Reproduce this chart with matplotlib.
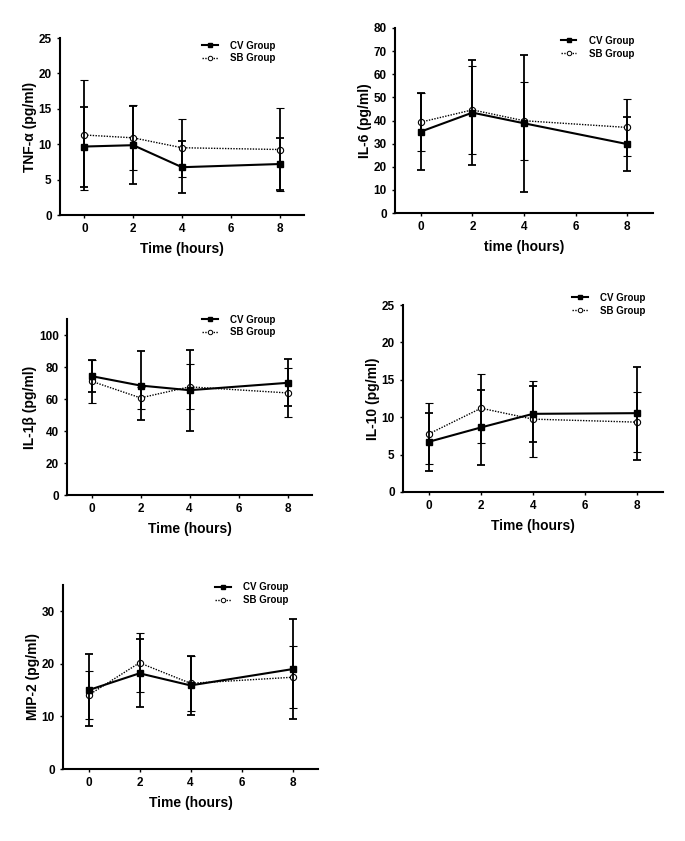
import matplotlib
matplotlib.use("Agg")
import matplotlib.pyplot as plt
from matplotlib.lines import Line2D

plt.rcParams['font.family'] = ['Liberation Sans', 'DejaVu Sans']
plt.rcParams['font.weight'] = 'bold'

hours = [0, 2, 4, 8]

tnf_cv = [9.67, 9.86, 6.75, 7.2]
tnf_cv_err = [5.65, 5.5, 3.7, 3.65]
tnf_sb = [11.3, 10.9, 9.5, 9.25]
tnf_sb_err = [7.7, 4.6, 4.1, 5.8]

il6_cv = [35.2, 43.4, 38.8, 29.8]
il6_cv_err = [16.6, 22.6, 29.7, 11.7]
il6_sb = [39.3, 44.6, 39.9, 37.0]
il6_sb_err = [12.4, 19.1, 16.8, 12.5]

il1b_cv = [74.3, 68.4, 65.5, 70.1]
il1b_cv_err = [10.0, 21.5, 25.2, 14.6]
il1b_sb = [71.1, 60.7, 67.6, 63.8]
il1b_sb_err = [13.5, 7.0, 14.1, 15.3]

il10_cv = [6.72, 8.63, 10.45, 10.54]
il10_cv_err = [3.9, 5.0, 3.75, 6.2]
il10_sb = [7.78, 11.2, 9.74, 9.34]
il10_sb_err = [4.1, 4.6, 5.1, 4.0]

mip2_cv = [15.0, 18.2, 15.9, 19.0]
mip2_cv_err = [6.9, 6.5, 5.6, 9.5]
mip2_sb = [14.05, 20.2, 16.3, 17.45]
mip2_sb_err = [4.6, 5.6, 5.2, 5.9]

xticks = [0, 2, 4, 6, 8]

panels = [
    dict(rect=(60, 38, 304, 215), ylabel='TNF-α (pg/ml)', xlabel='Time (hours)',
         ylim=(0, 25), yticks=[0, 5, 10, 15, 20, 25],
         cv=(tnf_cv, tnf_cv_err), sb=(tnf_sb, tnf_sb_err), leg=(0.582, 0.921)),
    dict(rect=(395, 28, 653, 213), ylabel='IL-6 (pg/ml)', xlabel='time (hours)',
         ylim=(0, 80), yticks=[0, 10, 20, 30, 40, 50, 60, 70, 80],
         cv=(il6_cv, il6_cv_err), sb=(il6_sb, il6_sb_err), leg=(0.643, 0.897)),
    dict(rect=(67, 319, 312, 495), ylabel='IL-1β (pg/ml)', xlabel='Time (hours)',
         ylim=(0, 110), yticks=[0, 20, 40, 60, 80, 100],
         cv=(il1b_cv, il1b_cv_err), sb=(il1b_sb, il1b_sb_err), leg=(0.551, 0.96)),
    dict(rect=(403, 305, 663, 492), ylabel='IL-10 (pg/ml)', xlabel='Time (hours)',
         ylim=(0, 25), yticks=[0, 5, 10, 15, 20, 25],
         cv=(il10_cv, il10_cv_err), sb=(il10_sb, il10_sb_err), leg=(0.65, 1.005)),
    dict(rect=(63, 585, 318, 769), ylabel='MIP-2 (pg/ml)', xlabel='Time (hours)',
         ylim=(0, 35), yticks=[0, 10, 20, 30],
         cv=(mip2_cv, mip2_cv_err), sb=(mip2_sb, mip2_sb_err), leg=(0.596, 0.954)),
]

W, H = 685, 841
fig = plt.figure(figsize=(W / 100, H / 100), dpi=100)

for p in panels:
    l, t, r, b = p['rect']
    ax = fig.add_axes([l / W, 1 - b / H, (r - l) / W, (b - t) / H])
    cv, cve = p['cv']
    sb, sbe = p['sb']
    ax.errorbar(hours, sb, yerr=sbe, color='black', linestyle=(0, (1, 1)), lw=1.0,
                marker='o', ms=4.5, mfc='white', mec='black', mew=0.8,
                ecolor='black', elinewidth=1.3, capsize=3, capthick=1.3,
                zorder=2)
    ax.errorbar(hours, cv, yerr=cve, color='black', linestyle='-', lw=1.5,
                marker='s', ms=4.5, mfc='black', mec='black',
                ecolor='black', elinewidth=1.3, capsize=3, capthick=1.3,
                zorder=3)
    ax.set_xlim(-1, 9)
    ax.set_ylim(*p['ylim'])
    ax.set_xticks(xticks)
    ax.set_yticks(p['yticks'])
    for s in ['top', 'right']:
        ax.spines[s].set_visible(False)
    for s in ['left', 'bottom']:
        ax.spines[s].set_linewidth(1.5)
    ax.tick_params(axis='both', length=2, width=1, labelsize=8.5, pad=4)
    for lab in ax.get_xticklabels() + ax.get_yticklabels():
        lab.set_fontweight('bold')
    ax.set_ylabel(p['ylabel'], fontsize=10, fontweight='bold', labelpad=1)
    ax.set_xlabel(p['xlabel'], fontsize=10, fontweight='bold', labelpad=5)
    h_cv = Line2D([], [], color='black', lw=1.5, marker='s', ms=3.2, mfc='black')
    h_sb = Line2D([], [], color='black', lw=1.0, linestyle=(0, (1, 1)), marker='o',
                  ms=3.2, mfc='white', mew=0.7)
    leg = ax.legend([h_cv, h_sb], ['CV Group', 'SB Group'],
                    loc='center left', bbox_to_anchor=p['leg'], frameon=False,
                    borderpad=0, borderaxespad=0, fontsize=7, handlelength=1.6,
                    handletextpad=1.3, labelspacing=0.3)
    for txt in leg.get_texts():
        txt.set_fontweight('bold')

fig.savefig('out.png', dpi=100)
